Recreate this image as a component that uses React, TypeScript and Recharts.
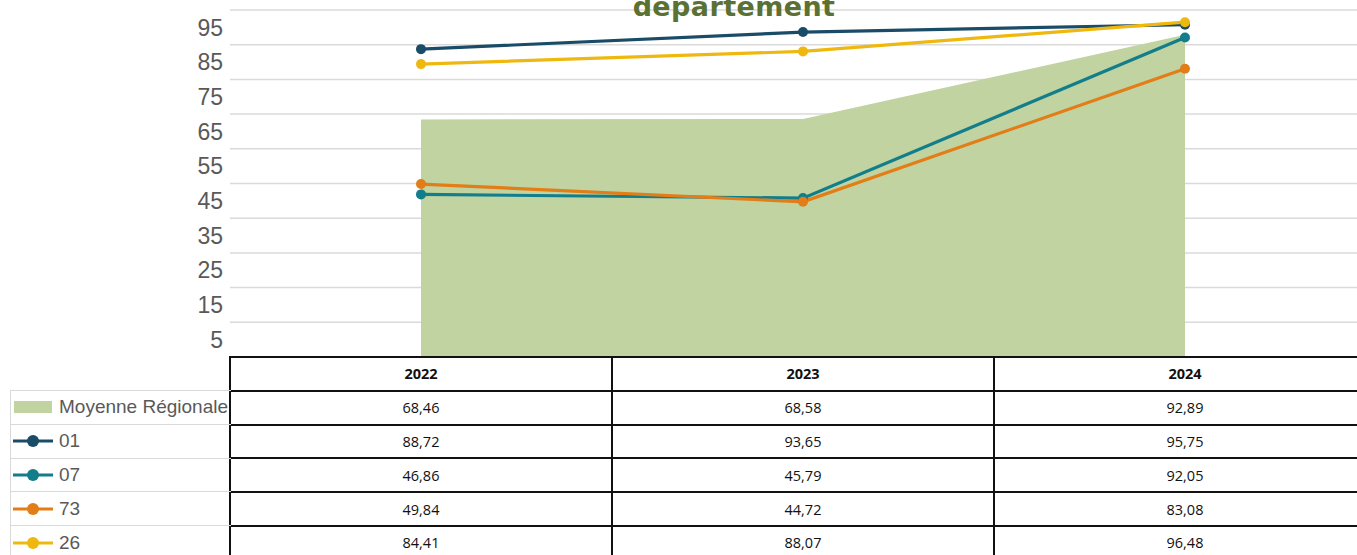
import { ComposedChart, Area, Line, XAxis, YAxis, CartesianGrid } from 'recharts'

const years = [2022, 2023, 2024]
const regional = [68.46, 68.58, 92.89]
const dept01 = [88.72, 93.65, 95.75]
const dept07 = [46.86, 45.79, 92.05]
const dept73 = [49.84, 44.72, 83.08]
const dept26 = [84.41, 88.07, 96.48]
const yTicks = [5, 15, 25, 35, 45, 55, 65, 75, 85, 95]
const gridValues = [10, 20, 30, 40, 50, 60, 70, 80, 90, 100]

const series = [
  { key: 'd01', name: '01', values: dept01, color: '#1a4c68' },
  { key: 'd07', name: '07', values: dept07, color: '#127d8b' },
  { key: 'd73', name: '73', values: dept73, color: '#e27d17' },
  { key: 'd26', name: '26', values: dept26, color: '#efb80e' },
]
const areaColor = '#c0d3a0'

const chartData = years.map((year, i) => {
  const row: Record<string, number> = { year, regional: regional[i] }
  series.forEach((s) => {
    row[s.key] = s.values[i]
  })
  return row
})

const fmt = (v: number) => v.toFixed(2).replace('.', ',')

const tableRows = [
  { label: 'Moyenne Régionale', values: regional },
  ...series.map((s) => ({ label: s.name, values: s.values })),
]

const ROW_H = 33.8
const COL_W = 382

export default function App() {
  return (
    <div
      style={{
        position: 'absolute',
        left: 0,
        top: 0,
        width: 1357,
        height: 555,
        overflow: 'hidden',
        background: '#fff',
      }}
    >
      <div style={{ position: 'absolute', left: 0, top: 0 }}>
        <ComposedChart
          width={1400}
          height={357}
          data={chartData}
          margin={{ top: 10, right: 24, bottom: 0, left: 0 }}
        >
          <CartesianGrid
            vertical={false}
            horizontalValues={gridValues}
            stroke="#dadada"
            strokeWidth={1.5}
          />
          <XAxis dataKey="year" type="number" domain={[2021.5, 2024.5]} hide />
          <YAxis
            width={230}
            domain={[0, 100]}
            ticks={yTicks}
            interval={0}
            axisLine={false}
            tickLine={false}
            tickSize={0}
            tickMargin={7}
            tick={{ fontSize: 23, fill: '#595959', fontFamily: 'Liberation Sans, Arial, sans-serif' }}
          />
          <Area
            dataKey="regional"
            type="linear"
            fill={areaColor}
            fillOpacity={1}
            stroke="none"
            isAnimationActive={false}
          />
          {series.map((s) => (
            <Line
              key={s.key}
              dataKey={s.key}
              type="linear"
              stroke={s.color}
              strokeWidth={3.2}
              dot={{ r: 5, fill: s.color, stroke: 'none' }}
              isAnimationActive={false}
            />
          ))}
        </ComposedChart>
      </div>

      <div
        style={{
          position: 'absolute',
          left: 0,
          width: 1468,
          top: -7,
          textAlign: 'center',
          fontFamily: 'DejaVu Sans, sans-serif',
          fontWeight: 900,
          fontSize: 27,
          letterSpacing: 0.4,
          color: '#5b7134',
          lineHeight: '27px',
        }}
      >
        département
      </div>

      {/* data table */}
      <div
        style={{
          position: 'absolute',
          left: 229,
          top: 356,
          display: 'grid',
          gridTemplateColumns: `repeat(3, ${COL_W}px)`,
          gridAutoRows: `${ROW_H}px`,
          borderTop: '2px solid #111',
          borderLeft: '2px solid #111',
          fontFamily: 'Open Sans, sans-serif',
          fontSize: 14.5,
          color: '#111',
        }}
      >
        {years.map((y) => (
          <div
            key={y}
            style={{
              boxSizing: 'border-box',
              borderRight: '2px solid #111',
              borderBottom: '2px solid #111',
              display: 'flex',
              alignItems: 'center',
              justifyContent: 'center',
              fontWeight: 700,
            }}
          >
            {y}
          </div>
        ))}
        {tableRows.map((r) =>
          r.values.map((v, i) => (
            <div
              key={r.label + i}
              style={{
                boxSizing: 'border-box',
                borderRight: '2px solid #111',
                borderBottom: '2px solid #111',
                display: 'flex',
                alignItems: 'center',
                justifyContent: 'center',
              }}
            >
              {fmt(v)}
            </div>
          ))
        )}
      </div>

      {/* legend column */}
      <div
        style={{
          position: 'absolute',
          left: 10,
          top: 390,
          width: 220,
          borderTop: '1px solid #d9d9d9',
          borderLeft: '1px solid #d9d9d9',
          fontFamily: 'Liberation Sans, Arial, sans-serif',
          fontSize: 19,
          color: '#595959',
        }}
      >
        {tableRows.map((r, idx) => {
          const s = idx === 0 ? null : series[idx - 1]
          return (
            <div
              key={r.label}
              style={{
                boxSizing: 'border-box',
                height: ROW_H,
                borderBottom: '1px solid #d9d9d9',
                display: 'flex',
                alignItems: 'center',
                whiteSpace: 'nowrap',
              }}
            >
              <svg width={48} height={16} style={{ flex: 'none' }}>
                {s ? (
                  <g>
                    <line x1={2} x2={42} y1={8} y2={8} stroke={s.color} strokeWidth={3} />
                    <circle cx={22} cy={8} r={6} fill={s.color} />
                  </g>
                ) : (
                  <rect x={3} y={2} width={38} height={12} fill={areaColor} />
                )}
              </svg>
              <span>{r.label}</span>
            </div>
          )
        })}
      </div>
    </div>
  )
}
